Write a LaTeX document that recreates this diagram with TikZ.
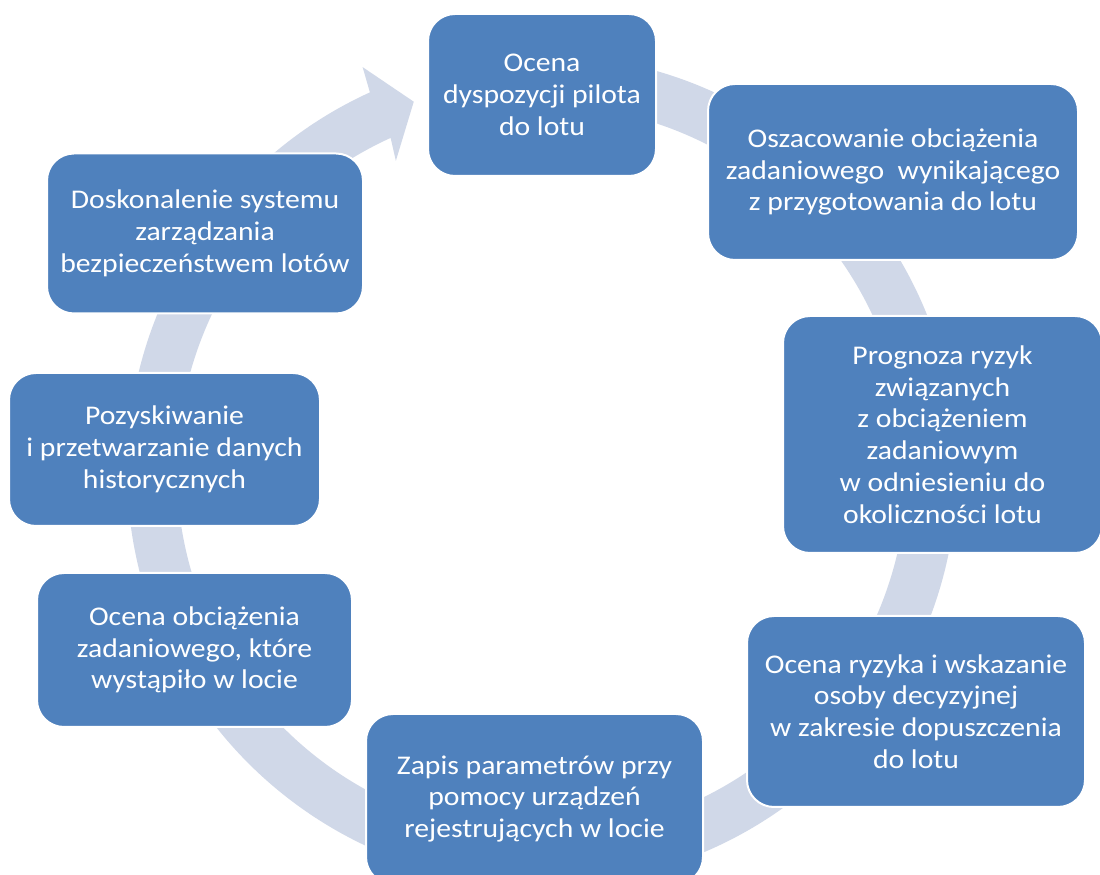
\documentclass[tikz,border=0pt]{standalone}
\usepackage{fontspec}
\setmainfont{Carlito}[FakeStretch=1.1]
\definecolor{boxblue}{HTML}{4F81BD}
\definecolor{ringcol}{HTML}{D0D8E8}
\begin{document}
\begin{tikzpicture}[x=1pt,y=1pt,
  stepbox/.style={fill=boxblue,draw=white,line width=2pt,rounded corners=27pt,
    text=white,align=center,inner sep=0pt,
    font=\fontsize{27}{31.7}\selectfont},
  ring/.style={fill=ringcol}]
\clip (0,0) rectangle (1100,875);
\fill[white] (0,0) rectangle (1100,875);
% circular arrow
\begin{scope}[shift={(542,405)}]
\fill[ring] (95:415pt) arc[start angle=95,end angle=-245.5,radius=415pt]
  -- (114.0:441pt) -- (109.2:390pt) -- (115.3:342pt)
  -- (-245.5:365pt) arc[start angle=-245.5,end angle=95,radius=365pt] -- cycle;
\end{scope}
% boxes
\node[stepbox,minimum width=228pt,minimum height=162pt] (b1) at (542,780)
  {Ocena\\dyspozycji pilota\\do lotu};
\node[stepbox,minimum width=370pt,minimum height=176pt] (b2) at (893,703)
  {Oszacowanie obciążenia\\zadaniowego~ wynikającego\\z przygotowania do lotu};
\node[stepbox,minimum width=319pt,minimum height=237pt] (b3) at (942.5,440.5)
  {Prognoza ryzyk\\związanych\\z obciążeniem\\zadaniowym\\w odniesieniu do\\okoliczności lotu};
\node[stepbox,minimum width=338pt,minimum height=191pt] (b4) at (916,163.5)
  {Ocena ryzyka i wskazanie\\osoby decyzyjnej\\w zakresie dopuszczenia\\do lotu};
\node[stepbox,minimum width=337pt,minimum height=170pt] (b5) at (534.5,76)
  {Zapis parametrów przy\\pomocy urządzeń\\rejestrujących w locie};
\node[stepbox,minimum width=315pt,minimum height=154pt] (b6) at (194.5,225)
  {Ocena obciążenia\\zadaniowego, które\\wystąpiło w locie};
\node[stepbox,minimum width=311pt,minimum height=153pt] (b7) at (164.5,425.5)
  {Pozyskiwanie\\i przetwarzanie danych\\historycznych};
\node[stepbox,minimum width=316pt,minimum height=160pt] (b8) at (205,641.5)
  {Doskonalenie systemu\\zarządzania\\bezpieczeństwem lotów};
\end{tikzpicture}
\end{document}
